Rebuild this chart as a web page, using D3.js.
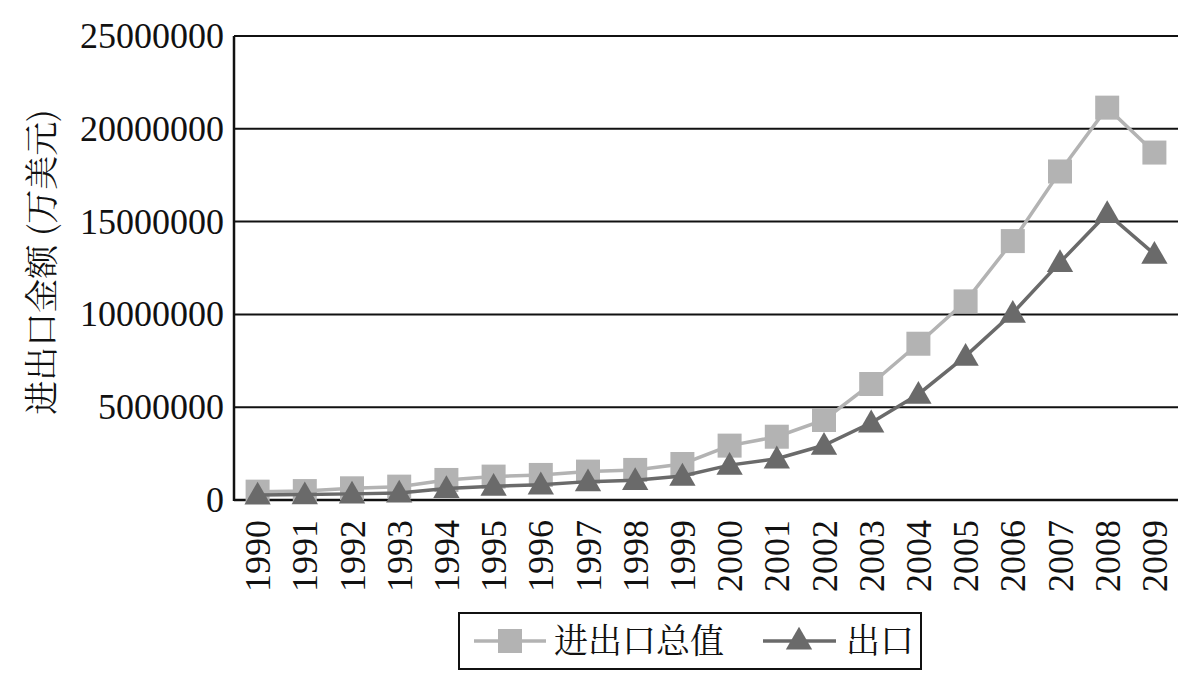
<!DOCTYPE html>
<html><head><meta charset="utf-8">
<script src="https://cdn.jsdelivr.net/npm/d3@7"></script>
<style>body{margin:0;background:#fff}svg{display:block}
.num{font-family:"Liberation Serif";}
.cjk{font-family:"Noto Serif CJK SC";}
</style>
</head><body>
<svg id="c" width="1203" height="689"></svg>
<script>
const years = ["1990","1991","1992","1993","1994","1995","1996","1997","1998","1999","2000","2001","2002","2003","2004","2005","2006","2007","2008","2009"];
const totalValues = [450000,480000,630000,720000,1080000,1260000,1350000,1530000,1620000,1940000,2930000,3410000,4310000,6250000,8420000,10700000,13950000,17700000,21140000,18720000];
const exportValues = [270000,290000,330000,380000,620000,740000,820000,990000,1060000,1290000,1880000,2220000,2950000,4160000,5700000,7750000,10070000,12800000,15440000,13250000];
const yTicks = [0,5000000,10000000,15000000,20000000,25000000];
const seriesNames = ["进出口总值","出口"];
const yTitle = "进出口金额 (万美元)";

const svg = d3.select("#c");
const L = 234, R = 1178, T = 36, B = 500;
const x = d3.scaleBand().domain(years).range([L, R]).padding(0);
const y = d3.scaleLinear().domain([0, 25000000]).range([B, T]);

// gridlines
svg.append("g").selectAll("line").data(yTicks.filter(d=>d>0)).join("line")
  .attr("x1", L).attr("x2", R).attr("y1", d=>y(d)).attr("y2", d=>y(d))
  .attr("stroke", "#111").attr("stroke-width", 2);

// y axis
const ya = svg.append("g").attr("transform", `translate(${L},0)`)
  .call(d3.axisLeft(y).tickValues(yTicks).tickSize(0).tickPadding(10).tickFormat(d=>String(d)));
ya.select(".domain").remove();
ya.attr("font-family", null).attr("font-size", null);
ya.selectAll("text").attr("class","num").style("font-size", "36px").attr("fill", "#111");

// x axis
const xa = svg.append("g").attr("transform", `translate(0,${B})`)
  .call(d3.axisBottom(x).tickSize(0).tickPadding(0));
xa.select(".domain").remove();
xa.attr("font-family", null).attr("font-size", null);
xa.selectAll("text").attr("class","num").style("font-size", "36px").attr("fill", "#111")
  .attr("transform", "rotate(-90)").attr("text-anchor", "end")
  .attr("x", -20).attr("y", 0).attr("dy", "0.35em");

// axis lines
svg.append("line").attr("x1", L).attr("x2", L).attr("y1", T).attr("y2", B+1).attr("stroke", "#111").attr("stroke-width", 2.5);
svg.append("line").attr("x1", L).attr("x2", R).attr("y1", B).attr("y2", B).attr("stroke", "#111").attr("stroke-width", 2.5);
svg.append("line").attr("x1", L).attr("x2", R).attr("y1", T).attr("y2", T).attr("stroke", "#111").attr("stroke-width", 2);

const cx = d => x(d) + x.bandwidth()/2;
const line = d3.line().x(d=>cx(d[0])).y(d=>y(d[1]));
const totalColor = "#b3b3b3", expColor = "#6a6a6a";
const totalData = years.map((yr,i)=>[yr,totalValues[i]]);
const expData = years.map((yr,i)=>[yr,exportValues[i]]);

svg.append("path").datum(totalData).attr("d", line).attr("fill","none").attr("stroke", totalColor).attr("stroke-width", 3.5);
svg.append("g").selectAll("rect").data(totalData).join("rect")
  .attr("x", d=>cx(d[0])-12).attr("y", d=>y(d[1])-12).attr("width", 24).attr("height", 24).attr("fill", totalColor);

svg.append("path").datum(expData).attr("d", line).attr("fill","none").attr("stroke", expColor).attr("stroke-width", 3.5);
const tri = d3.symbol().type(d3.symbolTriangle).size(300);
svg.append("g").selectAll("path").data(expData).join("path")
  .attr("d", tri).attr("transform", d=>`translate(${cx(d[0])},${y(d[1])+2})`).attr("fill", expColor);

// y title
svg.append("text").attr("class","cjk").attr("transform", `translate(42,${(T+B)/2-6}) rotate(-90)`)
  .attr("text-anchor","middle").attr("dy","0.35em")
  .style("font-size", "34px").attr("fill","#111").text(yTitle);

// legend
const lg = svg.append("g");
lg.append("rect").attr("x", 459).attr("y", 613).attr("width", 462).attr("height", 56)
  .attr("fill","none").attr("stroke","#111").attr("stroke-width",2);
const ly = 641;
lg.append("line").attr("x1",474).attr("x2",546).attr("y1",ly).attr("y2",ly).attr("stroke",totalColor).attr("stroke-width",3.5);
lg.append("rect").attr("x",498).attr("y",ly-12).attr("width",24).attr("height",24).attr("fill",totalColor);
lg.append("text").attr("class","cjk").attr("x",554).attr("y",ly).attr("dy","0.36em").style("font-size","34px").attr("fill","#111").text(seriesNames[0]);
lg.append("line").attr("x1",763).attr("x2",836).attr("y1",ly).attr("y2",ly).attr("stroke",expColor).attr("stroke-width",3.5);
lg.append("path").attr("d",tri).attr("transform",`translate(799,${ly+1})`).attr("fill",expColor);
lg.append("text").attr("class","cjk").attr("x",846).attr("y",ly).attr("dy","0.36em").style("font-size","34px").attr("fill","#111").text(seriesNames[1]);
</script>
</body></html>
